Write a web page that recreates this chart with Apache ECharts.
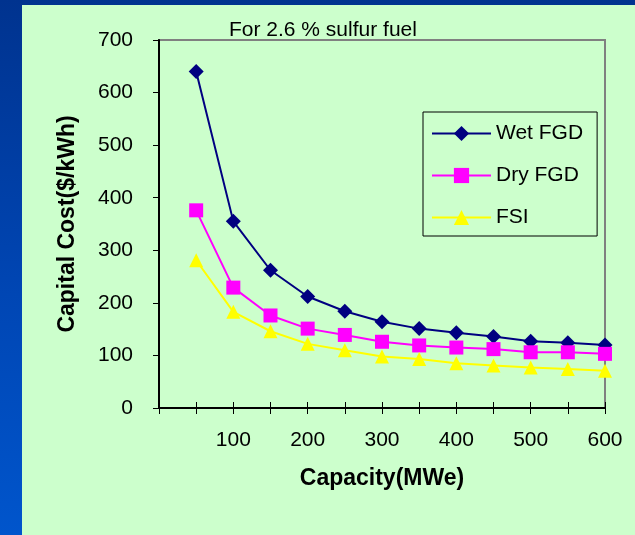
<!DOCTYPE html>
<html>
<head>
<meta charset="utf-8">
<title>Capital Cost vs Capacity</title>
<script src="https://cdn.jsdelivr.net/npm/echarts@6/dist/echarts.min.js"></script>
<style>
  html, body { margin: 0; padding: 0; }
  #slide {
    position: relative; width: 635px; height: 535px; overflow: hidden;
    background: linear-gradient(to bottom, #00338f 0%, #0046b4 55%, #0055cc 100%);
  }
  #panel { position: absolute; left: 22px; top: 5px; right: 0; bottom: 0; background: #ccffcc; }
  #chart { position: absolute; left: 0; top: 0; width: 635px; height: 535px; }
</style>
</head>
<body>
<div id="slide">
  <div id="panel"></div>
  <div id="chart"></div>
</div>
<script>
// Plant capacity (MWe) and capital cost ($/kWh) for each control technology
const capacity = [50, 100, 150, 200, 250, 300, 350, 400, 450, 500, 550, 600];
const wetFGD = [640, 355, 262, 212, 184, 164, 151, 143, 136, 127, 124, 120];
const dryFGD = [376, 229, 176, 151, 139, 126, 119, 115, 112, 106, 106, 103];
const fsi    = [281, 183, 146, 122, 110, 98, 93, 85, 81, 77, 74, 71];
const seriesNames = ['Wet FGD', 'Dry FGD', 'FSI'];

const FONT = 'Liberation Sans, Arial, sans-serif';
const pairs = arr => capacity.map((c, i) => [c, arr[i]]);

const chart = echarts.init(document.getElementById('chart'), null, { renderer: 'canvas' });

const xBase = {
  type: 'value', min: 0, max: 600, interval: 50,
  splitLine: { show: false },
  axisLine: { show: false }
};

chart.setOption({
  backgroundColor: 'transparent',
  animation: false,
  title: {
    text: 'For 2.6 % sulfur fuel',
    left: 224, top: 15,
    textStyle: { fontFamily: FONT, fontSize: 21, fontWeight: 'normal', color: '#000' }
  },
  grid: {
    left: 159, top: 40, right: 30, bottom: 127,
    show: true, borderColor: '#808080', borderWidth: 2, backgroundColor: 'transparent'
  },
  legend: {
    orient: 'vertical',
    left: 423, top: 112,
    padding: [11, 14, 8, 8],
    itemWidth: 59, itemHeight: 19, itemGap: 21, itemTextGap: 7,
    borderColor: '#000', borderWidth: 1,
    data: seriesNames,
    textStyle: { fontFamily: FONT, fontSize: 21, color: '#000', lineHeight: 20 }
  },
  xAxis: [
    Object.assign({}, xBase, {
      name: 'Capacity(MWe)', nameLocation: 'middle', nameGap: 59,
      nameTextStyle: { fontFamily: FONT, fontSize: 23, fontWeight: 'bold', color: '#000' },
      axisLine: { show: true, onZero: false, lineStyle: { color: '#000', width: 2 } },
      axisTick: { show: true, inside: false, length: 6, lineStyle: { color: '#000', width: 1 } },
      axisLabel: {
        margin: 22, fontFamily: FONT, fontSize: 21, color: '#000',
        formatter: v => (v > 0 && v % 100 === 0) ? String(v) : ''
      }
    }),
    // second copy of the axis supplies the inner half of the crossing ticks
    Object.assign({}, xBase, {
      position: 'bottom',
      axisTick: { show: true, inside: true, length: 6, lineStyle: { color: '#000', width: 1 } },
      axisLabel: { show: false }
    })
  ],
  yAxis: {
    type: 'value', min: 0, max: 700, interval: 100,
    name: 'Capital Cost($/kWh)', nameLocation: 'middle', nameGap: 80, nameRotate: 90,
    nameTextStyle: { fontFamily: FONT, fontSize: 23, fontWeight: 'bold', color: '#000' },
    splitLine: { show: false },
    axisLine: { show: true, onZero: false, lineStyle: { color: '#000', width: 2 } },
    axisTick: { show: true, length: 6, lineStyle: { color: '#000', width: 1 } },
    axisLabel: { margin: 26, fontFamily: FONT, fontSize: 21, color: '#000' }
  },
  series: [
    {
      name: seriesNames[0], type: 'line', xAxisIndex: 0, data: pairs(wetFGD),
      symbol: 'diamond', symbolSize: 15,
      lineStyle: { color: '#000080', width: 2 },
      itemStyle: { color: '#000080' }
    },
    {
      name: seriesNames[1], type: 'line', xAxisIndex: 0, data: pairs(dryFGD),
      symbol: 'rect', symbolSize: 14,
      lineStyle: { color: '#ff00ff', width: 2 },
      itemStyle: { color: '#ff00ff' }
    },
    {
      name: seriesNames[2], type: 'line', xAxisIndex: 0, data: pairs(fsi),
      symbol: 'triangle', symbolSize: 14,
      lineStyle: { color: '#ffff00', width: 2 },
      itemStyle: { color: '#ffff00' }
    }
  ]
});
</script>
</body>
</html>
